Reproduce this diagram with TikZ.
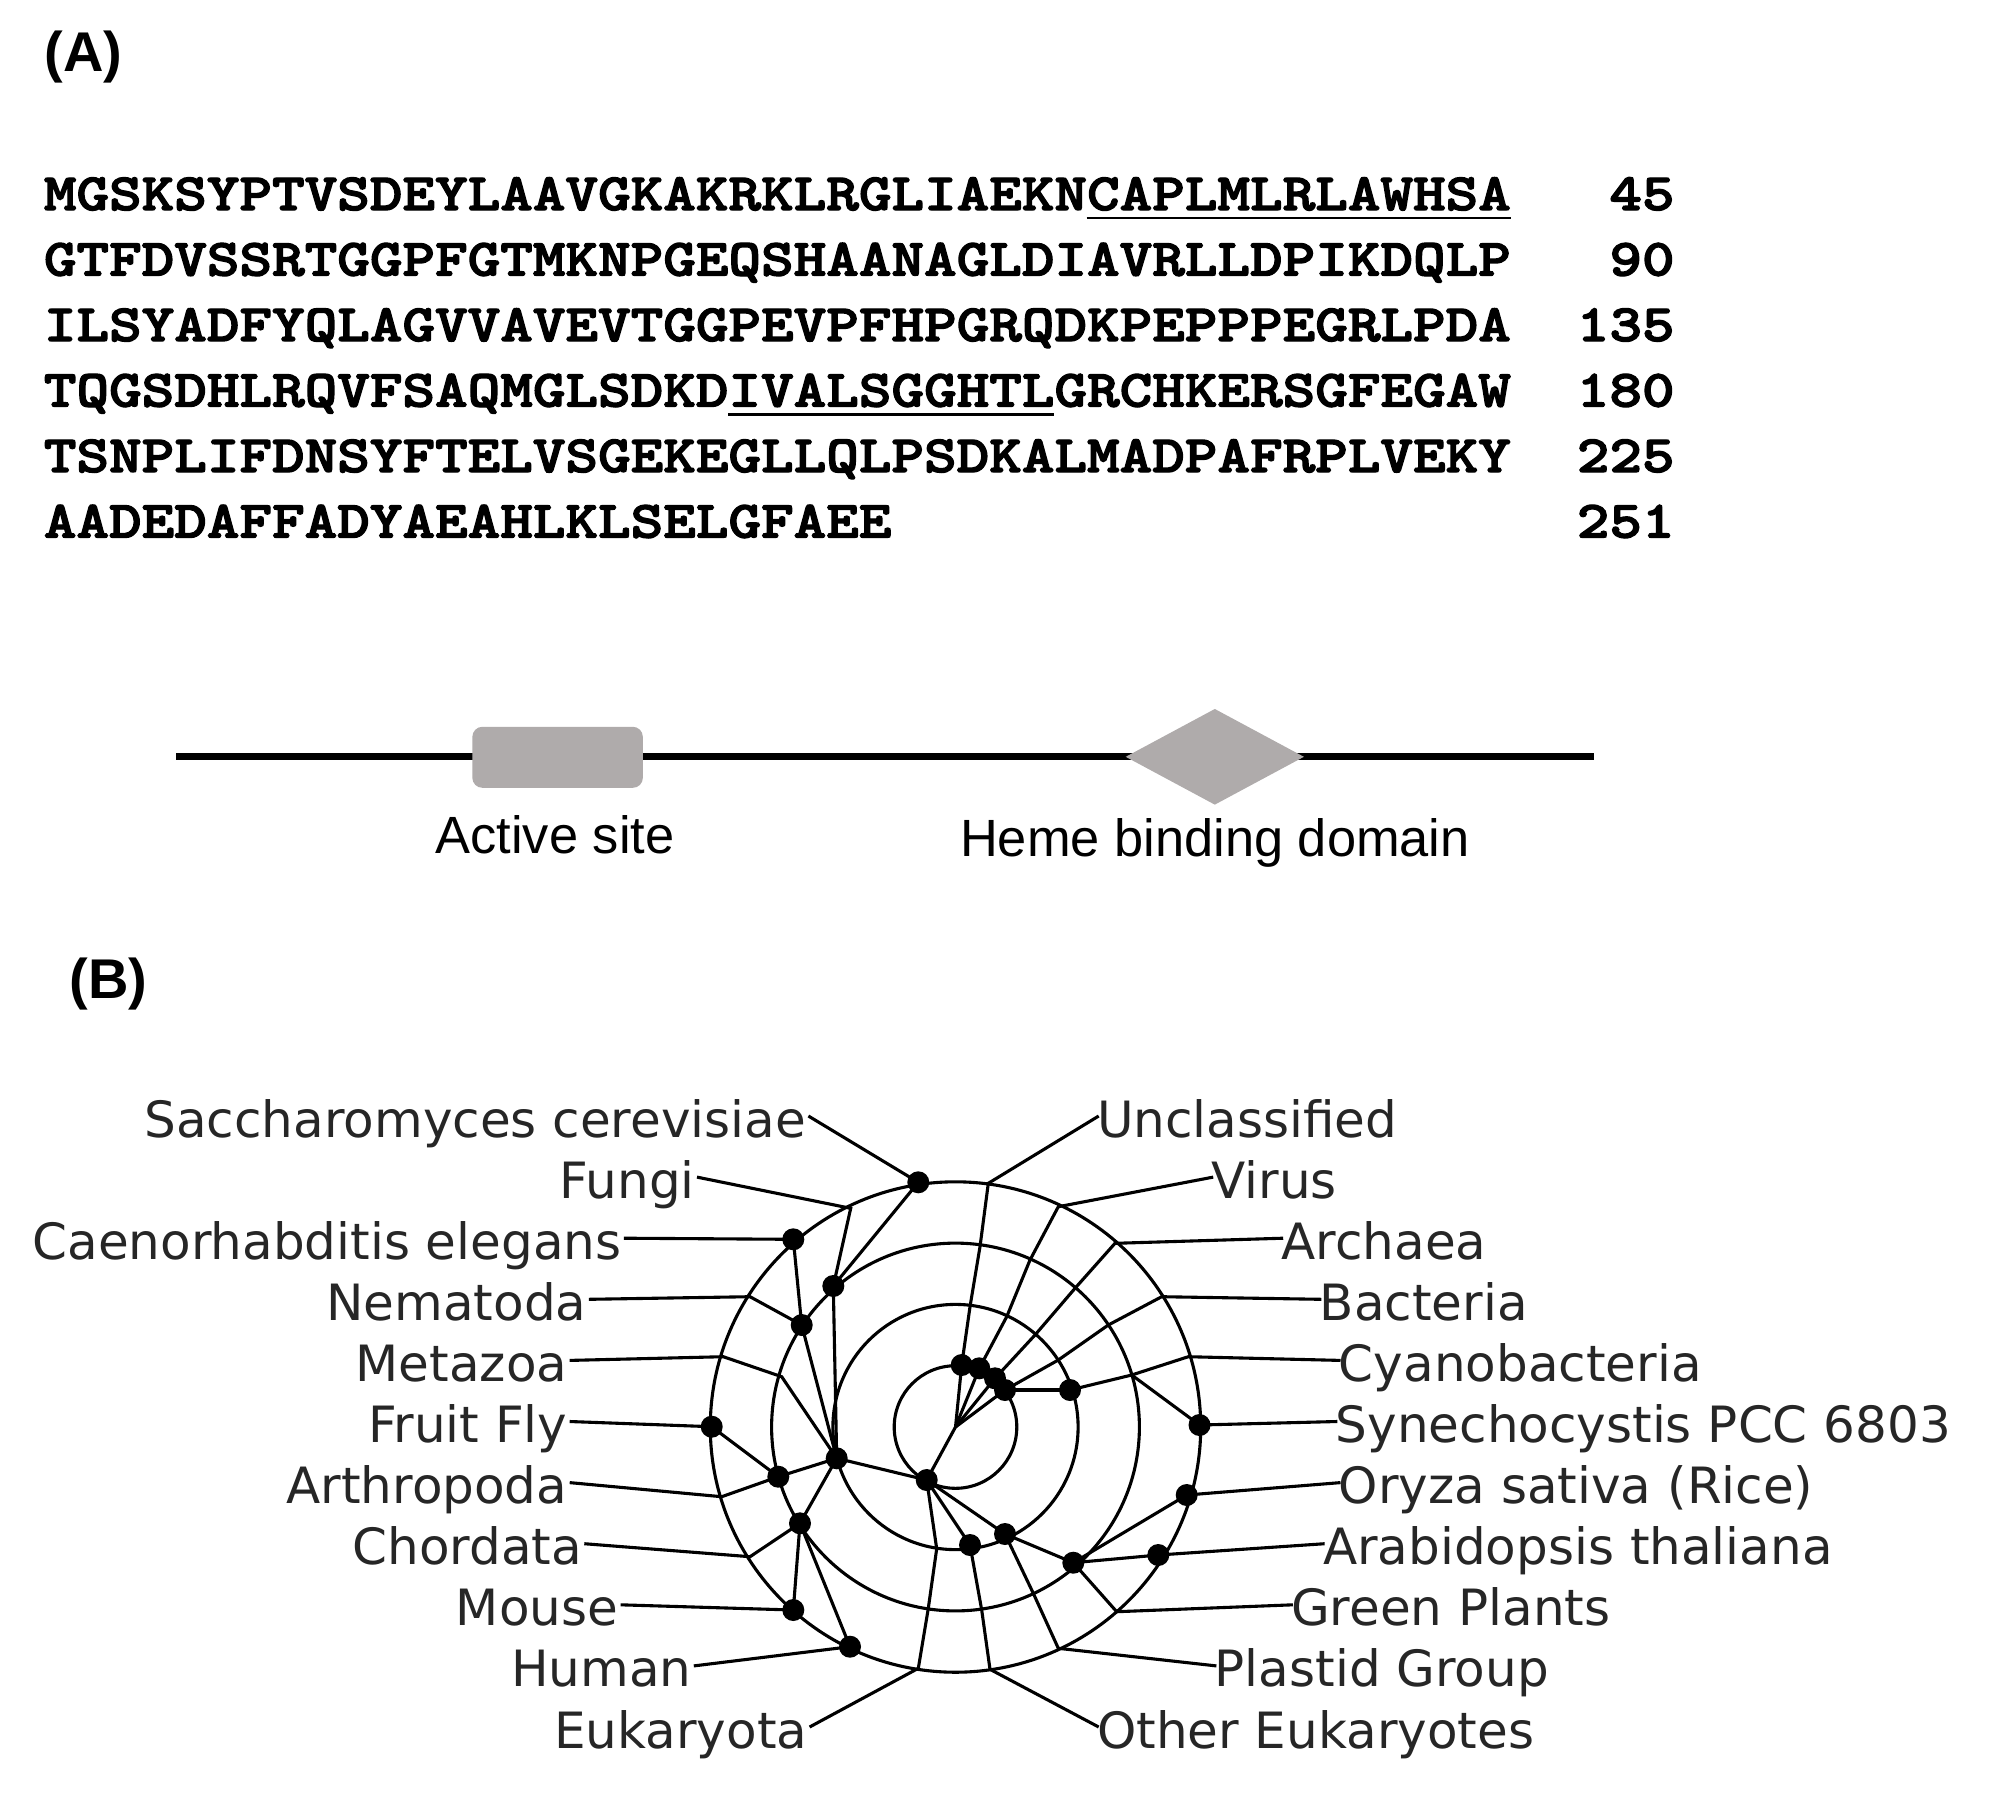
\documentclass[tikz,border=0pt]{standalone}
\usepackage{fontspec}
\setmainfont{Liberation Sans}
\newfontfamily\treefont{DejaVu Sans}
\newfontfamily\seqfont{lmmonolt10-bold}[Extension=.otf, FakeBold=2.5, FakeStretch=1.185]
\usetikzlibrary{shapes.geometric}
\definecolor{boxgray}{RGB}{175,171,171}
\begin{document}
\begin{tikzpicture}[x=0.5pt,y=-0.5pt,
  seq/.style={font=\seqfont\fontsize{26.2pt}{30pt}\selectfont, anchor=base west, inner sep=0pt},
  num/.style={font=\seqfont\fontsize{26.2pt}{30pt}\selectfont, anchor=base east, inner sep=0pt},
  uline/.style={line width=1.2pt},
  panel/.style={font=\bfseries\fontsize{28pt}{32pt}\selectfont, anchor=base west, inner sep=0pt},
  domlab/.style={font=\fontsize{26.2pt}{30pt}\selectfont, anchor=base, inner sep=0pt},
  tl/.style={font=\treefont\fontsize{25pt}{30pt}\selectfont, text=black!85, inner sep=0pt},
  edge/.style={line width=1.55pt},
  dot/.style={circle, fill=black, inner sep=0pt, minimum size=11pt}]
\useasboundingbox (0,0) rectangle (1998,1800);

% ---------------- Panel A ----------------
\node[panel] (pA) at (44,71) {(A)};
\node[seq] (s1) at (43.5,210) {MGSKSYPTVSDEYLAAVGKAKRKLRGLIAEKNCAPLMLRLAWHSA};
\node[seq] (s2) at (43.5,275.5) {GTFDVSSRTGGPFGTMKNPGEQSHAANAGLDIAVRLLDPIKDQLP};
\node[seq] (s3) at (43.5,341) {ILSYADFYQLAGVVAVEVTGGPEVPFHPGRQDKPEPPPEGRLPDA};
\node[seq] (s4) at (43.5,406.5) {TQGSDHLRQVFSAQMGLSDKDIVALSGGHTLGRCHKERSGFEGAW};
\node[seq] (s5) at (43.5,472) {TSNPLIFDNSYFTELVSGEKEGLLQLPSDKALMADPAFRPLVEKY};
\node[seq] (s6) at (43.5,537.5) {AADEDAFFADYAEAHLKLSELGFAEE};
\node[num] (n1) at (1675,210) {45};
\node[num] (n2) at (1675,275.5) {90};
\node[num] (n3) at (1675,341) {135};
\node[num] (n4) at (1675,406.5) {180};
\node[num] (n5) at (1675,472) {225};
\node[num] (n6) at (1675,537.5) {251};
\draw[uline] ([shift={(32*32.6,8)}]s1.base west) -- ([shift={(45*32.6,8)}]s1.base west);
\draw[uline] ([shift={(21*32.6,8)}]s4.base west) -- ([shift={(31*32.6,8)}]s4.base west);

\coordinate (pl) at (176,756);
\coordinate (pr) at (1594,756);
\draw[line width=3.5pt] (pl) -- (pr);
\node[fill=boxgray, rounded corners=5pt, minimum width=85.25pt, minimum height=30.5pt, inner sep=0pt] (act) at (557.6,757.3) {};
\node[diamond, fill=boxgray, aspect=1.87, minimum width=89.25pt, minimum height=48pt, inner sep=0pt] (heme) at (1214.8,756.8) {};
\node[domlab] (actl) at (555,853) {Active site};
\node[domlab] (heml) at (1215,856) {Heme binding domain};

% ---------------- Panel B ----------------
\node[panel] (pB) at (69,998) {(B)};

\coordinate (C) at (955.5,1427);
\draw[edge] (C) circle[radius=30.65pt];
\draw[edge] (C) circle[radius=61.3pt];
\draw[edge] (C) circle[radius=91.95pt];
\draw[edge] (C) circle[radius=122.6pt];

% left-side points
\coordinate (scd) at (918.3,1182.3);
\coordinate (fuo) at (850.7,1208.3);
\coordinate (fud) at (833.3,1286);
\coordinate (ced) at (793.3,1239.3);
\coordinate (neo) at (750,1296.7);
\coordinate (ned) at (801.7,1325);
\coordinate (meo) at (723.3,1356.7);
\coordinate (meb) at (781.7,1376.7);
\coordinate (med) at (836.7,1458.3);
\coordinate (ffd) at (711.7,1426.7);
\coordinate (ard) at (778.3,1476.7);
\coordinate (aro) at (721.7,1496.7);
\coordinate (chd) at (800,1523.3);
\coordinate (cho) at (750,1556.7);
\coordinate (mod) at (793.3,1610);
\coordinate (hud) at (850,1646.7);
\coordinate (eud) at (926.7,1480);
\coordinate (eu2) at (936.7,1548.7);
\coordinate (eu3) at (928.3,1608.3);
\coordinate (euo) at (918.3,1668.3);
% right-side points
\coordinate (und) at (961.7,1365);
\coordinate (un2) at (970,1306.7);
\coordinate (un3) at (980,1246.7);
\coordinate (uno) at (988.3,1183.3);
\coordinate (vid) at (979.3,1368.3);
\coordinate (vi2) at (1006.7,1316.7);
\coordinate (vi3) at (1030,1260);
\coordinate (vio) at (1058.3,1206.7);
\coordinate (acd) at (995,1378.3);
\coordinate (ac2) at (1035,1335);
\coordinate (ac3) at (1075,1288.3);
\coordinate (aco) at (1115,1243.3);
\coordinate (bad) at (1005,1390);
\coordinate (ba2) at (1058.3,1360);
\coordinate (ba3) at (1108.3,1325);
\coordinate (bao) at (1161.7,1296.7);
\coordinate (cyd) at (1070,1390);
\coordinate (cy3) at (1131.7,1375);
\coordinate (cyo) at (1188.3,1356.7);
\coordinate (syd) at (1199.5,1425);
\coordinate (rid) at (1186.7,1495);
\coordinate (atd) at (1158.3,1555);
\coordinate (gpd) at (1073.3,1562.7);
\coordinate (gpo) at (1116.7,1611.7);
\coordinate (pld) at (1005,1534);
\coordinate (pl3) at (1033.3,1593.3);
\coordinate (plo) at (1058.3,1648.3);
\coordinate (oed) at (970,1545);
\coordinate (oe3) at (981.7,1610);
\coordinate (oeo) at (990,1669.3);

% labels left (base east)
\node[tl, anchor=base east] (tSc) at (806.4,1137) {Saccharomyces cerevisiae};
\node[tl, anchor=base east] (tFu) at (695,1198.1) {Fungi};
\node[tl, anchor=base east] (tCe) at (621.8,1259.2) {Caenorhabditis elegans};
\node[tl, anchor=base east] (tNe) at (586.8,1320.3) {Nematoda};
\node[tl, anchor=base east] (tMe) at (567.7,1381.4) {Metazoa};
\node[tl, anchor=base east] (tFf) at (567.7,1442.5) {Fruit Fly};
\node[tl, anchor=base east] (tAr) at (567.7,1503.6) {Arthropoda};
\node[tl, anchor=base east] (tCh) at (582.3,1564.7) {Chordata};
\node[tl, anchor=base east] (tMo) at (618.6,1625.8) {Mouse};
\node[tl, anchor=base east] (tHu) at (691.8,1686.9) {Human};
\node[tl, anchor=base east] (tEu) at (807.6,1748) {Eukaryota};
% labels right (base west)
\node[tl, anchor=base west] (tUn) at (1096.7,1137) {Unclassified};
\node[tl, anchor=base west] (tVi) at (1211.2,1198.1) {Virus};
\node[tl, anchor=base west] (tAc) at (1281.2,1259.2) {Archaea};
\node[tl, anchor=base west] (tBa) at (1319.4,1320.3) {Bacteria};
\node[tl, anchor=base west] (tCy) at (1338.5,1381.4) {Cyanobacteria};
\node[tl, anchor=base west] (tSy) at (1335.3,1442.5) {Synechocystis PCC 6803};
\node[tl, anchor=base west] (tRi) at (1338.5,1503.6) {Oryza sativa (Rice)};
\node[tl, anchor=base west] (tAt) at (1322.6,1564.7) {Arabidopsis thaliana};
\node[tl, anchor=base west] (tGp) at (1290.8,1625.8) {Green Plants};
\node[tl, anchor=base west] (tPl) at (1214.4,1686.9) {Plastid Group};
\node[tl, anchor=base west] (tOe) at (1096.7,1748) {Other Eukaryotes};

% tree edges
\draw[edge] (C) -- (und);
\draw[edge] (C) -- (vid);
\draw[edge] (C) -- (acd);
\draw[edge] (C) -- (bad);
\draw[edge] (C) -- (eud);
\draw[edge] (und) -- (un2) -- (un3) -- (uno) -- ([shift={(2,-21)}]tUn.base west);
\draw[edge] (vid) -- (vi2) -- (vi3) -- (vio) -- ([shift={(2,-21)}]tVi.base west);
\draw[edge] (acd) -- (ac2) -- (ac3) -- (aco) -- ([shift={(2,-21)}]tAc.base west);
\draw[edge] (bad) -- (ba2) -- (ba3) -- (bao) -- ([shift={(2,-21)}]tBa.base west);
\draw[edge] (bad) -- (cyd);
\draw[edge] (cyd) -- (cy3) -- (cyo) -- ([shift={(2,-21)}]tCy.base west);
\draw[edge] (cy3) -- (syd) -- ([shift={(2,-21)}]tSy.base west);
\draw[edge] (eud) -- (med);
\draw[edge] (eud) -- (oed);
\draw[edge] (eud) -- (pld);
\draw[edge] (eud) -- (eu2) -- (eu3) -- (euo) -- ([shift={(2,-21)}]tEu.base east);
\draw[edge] (med) -- (fud);
\draw[edge] (med) -- (ned);
\draw[edge] (med) -- (meb) -- (meo) -- ([shift={(2,-21)}]tMe.base east);
\draw[edge] (med) -- (ard);
\draw[edge] (med) -- (chd);
\draw[edge] (fud) -- (scd) -- ([shift={(2,-21)}]tSc.base east);
\draw[edge] (fud) -- (fuo) -- ([shift={(2,-21)}]tFu.base east);
\draw[edge] (ned) -- (ced) -- ([shift={(2,-21)}]tCe.base east);
\draw[edge] (ned) -- (neo) -- ([shift={(2,-21)}]tNe.base east);
\draw[edge] (ard) -- (ffd) -- ([shift={(2,-21)}]tFf.base east);
\draw[edge] (ard) -- (aro) -- ([shift={(2,-21)}]tAr.base east);
\draw[edge] (chd) -- (cho) -- ([shift={(2,-21)}]tCh.base east);
\draw[edge] (chd) -- (mod) -- ([shift={(2,-21)}]tMo.base east);
\draw[edge] (chd) -- (hud) -- ([shift={(2,-21)}]tHu.base east);
\draw[edge] (oed) -- (oe3) -- (oeo) -- ([shift={(2,-21)}]tOe.base west);
\draw[edge] (pld) -- (pl3) -- (plo) -- ([shift={(2,-21)}]tPl.base west);
\draw[edge] (pld) -- (gpd);
\draw[edge] (gpd) -- (gpo) -- ([shift={(2,-21)}]tGp.base west);
\draw[edge] (gpd) -- (rid) -- ([shift={(2,-21)}]tRi.base west);
\draw[edge] (gpd) -- (atd) -- ([shift={(2,-21)}]tAt.base west);

% dots
\foreach \p in {scd,fud,ced,ned,med,ffd,ard,chd,mod,hud,eud,und,vid,acd,bad,cyd,syd,rid,atd,gpd,pld,oed}
  \node[dot] (dot-\p) at (\p) {};
\end{tikzpicture}
\end{document}
